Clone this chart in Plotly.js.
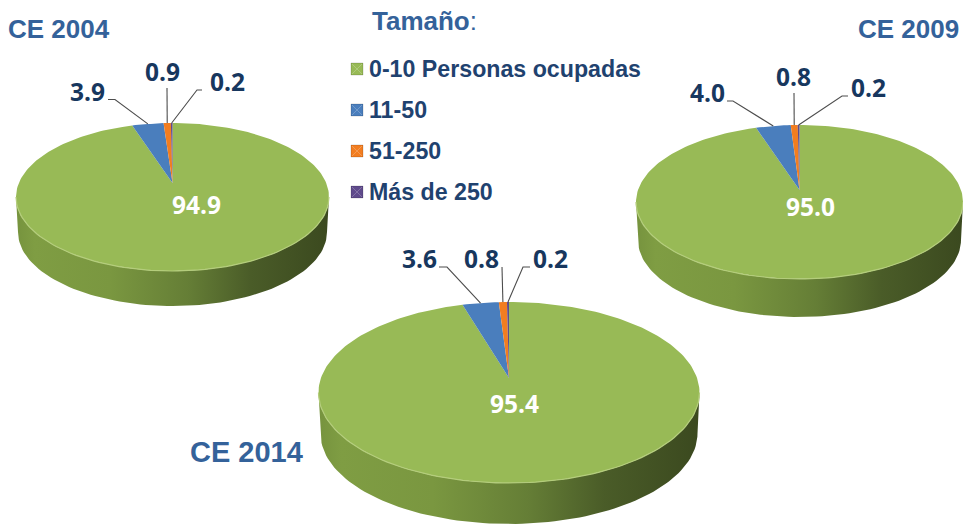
<!DOCTYPE html>
<html lang="es">
<head>
<meta charset="utf-8">
<script src="https://cdn.plot.ly/plotly-3.0.1.min.js"></script>
<style>html,body{margin:0;padding:0;background:#fff}#chart{width:963px;height:525px}</style>
</head>
<body>
<div id="chart"></div>
<script>
// ---- data ----
var categories = ['0-10 Personas ocupadas', '11-50', '51-250', 'Más de 250'];
var values2004 = [94.9, 3.9, 0.9, 0.2];
var values2009 = [95.0, 4.0, 0.8, 0.2];
var values2014 = [95.4, 3.6, 0.8, 0.2];
var pieTitles = ['CE 2004', 'CE 2009', 'CE 2014'];
var legendTitle = '<b>Tamaño</b>:';

// ---- styling ----
var sliceColors = ['#98ba56', '#4a7ebd', '#f27d20', '#5f4a8b'];
var NAVY = '#17375e', TITLE = '#34629a', LEGEND = '#1f426f', LEADER = '#4d4d4d';
var WALL = [[0,'#76933e'],[0.06,'#7f9d43'],[0.3,'#7a9740'],[0.55,'#657e36'],[0.75,'#4a5c28'],[1,'#3b491f']];

// ---- layout of each pie (pixel-scale axes) ----
var pies = [
  {values: values2004, cx: 172.5, cy: 197, rx: 156.5, ry: 74, a: 0.19, depth: 35,
   lab: [[196,204],[87,91],[162,71],[227,81]],
   elbow: [null,[[108,99.5],[115,99.5]],[[167,88]],[[202,90],[197,90]]]},
  {values: values2009, cx: 799.5, cy: 202, rx: 163.5, ry: 77, a: 0.156, depth: 38,
   lab: [[810,206],[707,92],[793,76],[868,87]],
   elbow: [null,[[727,101],[733,101]],[[794,93]],[[848,96],[842,96]]]},
  {values: values2014, cx: 509, cy: 392.5, rx: 190.5, ry: 90.5, a: 0.16, depth: 41,
   lab: [[514,403],[419,258],[481,258],[550,258]],
   elbow: [null,[[439,267],[447,267]],[[502,267]],[[530,267],[523,267]]]}
];

// a turn t (0..1, clockwise from the top) on the tilted disc, seen in perspective
function rim(p, t) {
  var th = 2 * Math.PI * t, X = Math.sin(th), Y = Math.cos(th);
  var d = 1 + p.a * Y;
  return [p.cx + p.rx * X * Math.sqrt(1 - p.a * p.a) / d, p.cy - p.ry * (Y + p.a) / d];
}
function apex(p) { return [p.cx, p.cy - p.ry * p.a]; }

var traces = [], annotations = [];

pies.forEach(function (p, ip) {
  // side wall
  var wx = [], wy = [], i, k;
  for (i = 0; i <= 90; i++) { k = Math.PI * i / 90; wx.push(p.cx + p.rx * Math.cos(k)); wy.push(p.cy + p.ry * Math.sin(k)); }
  for (i = 90; i >= 0; i--) { k = Math.PI * i / 90; wx.push(p.cx + (p.rx - 2) * Math.cos(k)); wy.push(p.cy + p.depth + p.ry * Math.sin(k)); }
  traces.push({type:'scatter', mode:'lines', x:wx, y:wy, fill:'toself', line:{width:0, color:'#5f7534'},
    fillgradient:{type:'horizontal', colorscale:WALL}, hoverinfo:'skip', showlegend:false});

  // slices
  var total = p.values.reduce(function (s, v) { return s + v; }, 0), cum = 0;
  var mids = [];
  p.values.forEach(function (v, j) {
    var f = v / total, n = Math.max(2, Math.ceil(f * 240)), xs = [apex(p)[0]], ys = [apex(p)[1]];
    for (var q = 0; q <= n; q++) { var pt = rim(p, cum + f * q / n); xs.push(pt[0]); ys.push(pt[1]); }
    xs.push(apex(p)[0]); ys.push(apex(p)[1]);
    mids.push(cum + f / 2);
    traces.push({type:'scatter', mode:'lines', x:xs, y:ys, fill:'toself', fillcolor:sliceColors[j],
      line:{width:0, color:sliceColors[j]}, name:categories[j], showlegend:false,
      hoverinfo:'skip'});
    cum += f;
  });

  // pale rim on the front edge of the face
  var ex = [], ey = [];
  for (i = 0; i <= 90; i++) { k = Math.PI * i / 90; ex.push(p.cx + p.rx * Math.cos(k)); ey.push(p.cy + p.ry * Math.sin(k)); }
  traces.push({type:'scatter', mode:'lines', x:ex, y:ey, line:{width:1.2, color:'#b4cd7c'}, hoverinfo:'skip', showlegend:false});

  // leader lines + value labels
  p.values.forEach(function (v, j) {
    var e = p.elbow[j];
    if (e) {
      var end = rim(p, mids[j]);
      var lx = e.map(function (c) { return c[0]; }).concat(end[0]);
      var ly = e.map(function (c) { return c[1]; }).concat(end[1]);
      traces.push({type:'scatter', mode:'lines', x:lx, y:ly, line:{width:1.1, color:LEADER}, hoverinfo:'skip', showlegend:false});
    }
    annotations.push({x:p.lab[j][0], y:p.lab[j][1], xref:'x', yref:'y', showarrow:false, xanchor:'center', yanchor:'middle',
      text:'<b>' + v.toFixed(1) + '</b>', font:{family:'Open Sans, sans-serif', size:24.5, color: j === 0 ? '#ffffff' : NAVY}});
  });
});

// legend
var legendY = [69, 110, 151, 192];
categories.forEach(function (c, j) {
  traces.push({type:'scatter', mode:'markers', x:[357], y:[legendY[j]], name:c, showlegend:false, hoverinfo:'skip',
    marker:{symbol:'square', size:12, color:sliceColors[j], line:{width:1, color:'rgba(0,0,0,0.15)'}}});
  traces.push({type:'scatter', mode:'markers', x:[357], y:[legendY[j]], showlegend:false, hoverinfo:'skip',
    marker:{symbol:'x-thin', size:10, line:{width:1, color:'rgba(255,255,255,0.22)'}}});
  annotations.push({x:367, y:legendY[j], xref:'x', yref:'y', showarrow:false, xanchor:'left', yanchor:'middle',
    text:'<b>' + c + '</b>', font:{family:'Liberation Sans, Arial, sans-serif', size:23.2, color:LEGEND}});
});
annotations.push({x:370, y:21, xref:'x', yref:'y', showarrow:false, xanchor:'left', yanchor:'middle',
  text:legendTitle, font:{family:'Liberation Sans, Arial, sans-serif', size:26, color:TITLE}});

// pie titles
[[6,29,'left',26],[961,29,'right',26],[188,452,'left',29]].forEach(function (t, i) {
  annotations.push({x:t[0], y:t[1], xref:'x', yref:'y', showarrow:false, xanchor:t[2], yanchor:'middle',
    text:'<b>' + pieTitles[i] + '</b>', font:{family:'Liberation Sans, Arial, sans-serif', size:t[3], color:TITLE}});
});

var layout = {
  width:963, height:525, margin:{l:0,r:0,t:0,b:0}, paper_bgcolor:'#fff', plot_bgcolor:'#fff', showlegend:false,
  hovermode:false,
  xaxis:{range:[0,963], visible:false, fixedrange:true},
  yaxis:{range:[525,0], visible:false, fixedrange:true},
  annotations:annotations
};
Plotly.newPlot('chart', traces, layout, {displayModeBar:false, staticPlot:true});
</script>
</body>
</html>
